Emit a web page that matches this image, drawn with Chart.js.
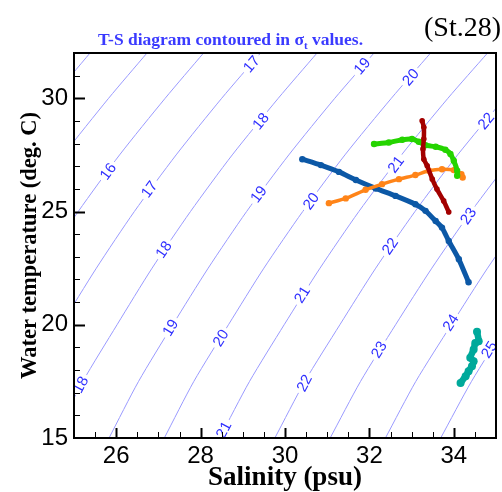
<!DOCTYPE html>
<html>
<head>
<meta charset="utf-8">
<script src="https://cdn.jsdelivr.net/npm/chart.js@4.4.0/dist/chart.umd.min.js"></script>
<style>
html,body{margin:0;padding:0;background:#fff;}
#wrap{position:relative;width:502px;height:492px;}
</style>
</head>
<body>
<div id="wrap"><canvas id="c" width="502" height="492"></canvas></div>
<script>
// ---------- axes ----------
const xRange = [25, 35];
const yRange = [15, 32];
const xTicks = [26, 28, 30, 32, 34];
const yTicks = [15, 20, 25, 30];

// ---------- sigma-t contour lines (salinity read at each temperature level) ----------
const isoTemps = [15, 17.5, 20, 22.5, 25, 27.5, 30, 32];
const iso14 = [19.28, 19.95, 20.74, 21.55, 22.44, 23.41, 24.48, 25.38];
const iso15 = [20.59, 21.27, 22.06, 22.88, 23.77, 24.75, 25.82, 26.73];
const iso16 = [21.90, 22.58, 23.38, 24.20, 25.10, 26.08, 27.16, 28.07];
const iso17 = [23.21, 23.90, 24.70, 25.53, 26.43, 27.42, 28.50, 29.42];
const iso18 = [24.52, 25.21, 26.02, 26.85, 27.76, 28.75, 29.84, 30.76];
const iso19 = [25.83, 26.53, 27.34, 28.18, 29.09, 30.09, 31.18, 32.11];
const iso20 = [27.14, 27.84, 28.66, 29.50, 30.42, 31.42, 32.52, 33.45];
const iso21 = [28.45, 29.16, 29.98, 30.83, 31.75, 32.76, 33.86, 34.80];
const iso22 = [29.76, 30.47, 31.30, 32.15, 33.08, 34.09, 35.20, 36.14];
const iso23 = [31.07, 31.79, 32.62, 33.48, 34.41, 35.43, 36.54, 37.49];
const iso24 = [32.38, 33.10, 33.94, 34.80, 35.74, 36.76, 37.88, 38.83];
const iso25 = [33.69, 34.42, 35.26, 36.13, 37.07, 38.10, 39.22, 40.18];
const iso26 = [35.00, 35.73, 36.58, 37.45, 38.40, 39.43, 40.56, 41.52];
const isoLevels = [14, 15, 16, 17, 18, 19, 20, 21, 22, 23, 24, 25, 26];
const isoSalinity = [iso14, iso15, iso16, iso17, iso18, iso19, iso20, iso21, iso22, iso23, iso24, iso25, iso26];

// ---------- contour labels ----------
const labelSigma = [17, 19, 20, 22, 16, 18, 17, 21, 19, 20, 18, 22, 23, 21, 19, 20, 23, 24, 25, 18, 22, 21];
const labelS = [29.20, 31.82, 32.97, 34.76, 25.80, 29.42, 26.78, 32.62, 29.37, 30.61, 27.12, 32.48, 34.34, 30.40, 27.28, 28.47, 32.22, 33.92, 34.83, 25.15, 30.45, 28.54];
const labelT = [31.52, 31.43, 30.94, 29.01, 26.78, 29.00, 25.99, 27.09, 25.77, 25.47, 23.33, 23.48, 24.81, 21.34, 19.88, 19.42, 18.91, 20.10, 18.91, 17.36, 17.43, 15.37];

// ---------- observed profiles (salinity, temperature) ----------
const blueS = [30.41, 30.85, 31.28, 31.68, 32.15, 32.62, 33.09, 33.33, 33.57, 33.72, 33.88, 34.12, 34.35];
const blueT = [27.31, 27.05, 26.75, 26.39, 26.02, 25.69, 25.32, 25.03, 24.58, 24.29, 23.70, 22.89, 21.88];
const orangeS = [31.04, 31.44, 31.91, 32.30, 32.70, 33.09, 33.41, 33.72, 34.00, 34.18, 34.21];
const orangeT = [25.37, 25.58, 25.96, 26.21, 26.43, 26.61, 26.80, 26.87, 26.83, 26.65, 26.50];
const greenS = [32.11, 32.46, 32.78, 33.01, 33.17, 33.33, 33.57, 33.80, 33.92, 34.00, 34.08, 34.08];
const greenT = [27.98, 28.05, 28.17, 28.20, 28.08, 27.93, 27.86, 27.73, 27.54, 27.24, 26.80, 26.58];
const redS = [33.25, 33.29, 33.29, 33.27, 33.29, 33.37, 33.49, 33.60, 33.76, 33.88];
const redT = [29.01, 28.72, 28.20, 27.76, 27.31, 27.02, 26.43, 25.99, 25.47, 24.98];
const tealS = [34.55, 34.59, 34.51, 34.47, 34.39, 34.47, 34.43, 34.35, 34.28, 34.16];
const tealT = [19.69, 19.27, 19.20, 18.91, 18.54, 18.39, 18.17, 17.95, 17.73, 17.43];

const pts = (S, T) => S.map((s, i) => ({x: s, y: T[i]}));

const datasets = [];
isoSalinity.forEach((arr, k) => {
  datasets.push({
    label: 'sigma ' + isoLevels[k],
    data: pts(arr, isoTemps),
    showLine: true, pointRadius: 0, borderColor: '#9a9aff', borderWidth: 1,
    tension: 0.25, order: 10, clip: 0
  });
});
function profile(label, S, T, color, bw, pr) {
  return {label, data: pts(S, T), showLine: true, borderColor: color, backgroundColor: color,
    borderWidth: bw, pointRadius: pr, pointBorderWidth: 0, tension: 0.2,
    borderCapStyle: 'round', borderJoinStyle: 'round', clip: 0};
}
datasets.push(Object.assign(profile('blue', blueS, blueT, '#0c58a6', 5, 3.2), {order: 5}));
datasets.push(Object.assign(profile('orange', orangeS, orangeT, '#ff8418', 3.5, 3.2), {order: 4}));
datasets.push(Object.assign(profile('green', greenS, greenT, '#25d400', 5, 3.2), {order: 3}));
datasets.push(Object.assign(profile('darkred', redS, redT, '#a30000', 4.5, 2.8), {order: 2}));
datasets.push(Object.assign(profile('teal', tealS, tealT, '#00a99b', 6.5, 4), {order: 1}));

const extras = {
  id: 'extras',
  afterDatasetDraw(chart, args) {
    if (args.index !== 0) return;
    const ctx = chart.ctx, a = chart.chartArea;
    const xs = chart.scales.x, ys = chart.scales.y;
    ctx.save();
    ctx.beginPath(); ctx.rect(a.left, a.top, a.right - a.left, a.bottom - a.top); ctx.clip();
    ctx.font = '15px "Liberation Sans", Arial, sans-serif';
    ctx.textAlign = 'center'; ctx.textBaseline = 'middle';
    labelSigma.forEach((lv, i) => {
      const arr = isoSalinity[isoLevels.indexOf(lv)];
      let j = 0;
      while (j < isoTemps.length - 2 && labelT[i] > isoTemps[j + 1]) j++;
      const x1 = xs.getPixelForValue(arr[j]), y1 = ys.getPixelForValue(isoTemps[j]);
      const x2 = xs.getPixelForValue(arr[j + 1]), y2 = ys.getPixelForValue(isoTemps[j + 1]);
      const ang = Math.atan2(y2 - y1, x2 - x1);
      const px = xs.getPixelForValue(labelS[i]), py = ys.getPixelForValue(labelT[i]);
      const txt = String(lv);
      const w = ctx.measureText(txt).width;
      ctx.save();
      ctx.translate(px, py); ctx.rotate(ang);
      ctx.fillStyle = '#fff';
      ctx.fillRect(-w / 2 - 3, -6, w + 6, 12);
      ctx.fillStyle = '#2f2fff';
      ctx.fillText(txt, 0, 1);
      ctx.restore();
    });
    ctx.restore();
  },
  afterDraw(chart) {
    const ctx = chart.ctx, a = chart.chartArea;
    const xs = chart.scales.x, ys = chart.scales.y;
    ctx.save();
    ctx.strokeStyle = '#000';
    // inward ticks
    for (let v = xRange[0] + 0.5; v < xRange[1]; v += 0.5) {
      const major = xTicks.includes(v);
      const x = Math.round(xs.getPixelForValue(v)) + 0.5;
      ctx.lineWidth = major ? 2 : 1;
      ctx.beginPath(); ctx.moveTo(x, a.bottom); ctx.lineTo(x, a.bottom - (major ? 10 : 6)); ctx.stroke();
    }
    for (let v = yRange[0] + 1; v < yRange[1]; v += 1) {
      const major = yTicks.includes(v);
      const y = Math.round(ys.getPixelForValue(v)) + 0.5;
      ctx.lineWidth = major ? 2 : 1;
      ctx.beginPath(); ctx.moveTo(a.left, y); ctx.lineTo(a.left + (major ? 11 : 6), y); ctx.stroke();
    }
    // frame
    ctx.lineWidth = 2;
    ctx.strokeRect(a.left, a.top, a.right - a.left, a.bottom - a.top);
    // title
    ctx.fillStyle = '#3a3aff';
    ctx.textBaseline = 'alphabetic'; ctx.textAlign = 'left';
    const f1 = 'bold 17.5px "Liberation Serif", "Times New Roman", serif';
    ctx.font = f1;
    let x = 98; const yb = 45;
    const p1 = 'T-S diagram contoured in ';
    ctx.fillText(p1, x, yb); x += ctx.measureText(p1).width;
    ctx.fillText('σ', x, yb); x += ctx.measureText('σ').width;
    ctx.font = 'bold 11px "Liberation Serif", "Times New Roman", serif';
    ctx.fillText('t', x, yb + 4); x += ctx.measureText('t').width;
    ctx.font = f1;
    ctx.fillText(' values.', x, yb);
    // station tag
    ctx.fillStyle = '#000';
    ctx.font = '28px "Liberation Serif", "Times New Roman", serif';
    ctx.textAlign = 'right';
    ctx.fillText('(St.28)', 501, 36);
    ctx.restore();
  }
};

new Chart(document.getElementById('c'), {
  type: 'scatter',
  data: {datasets},
  options: {
    responsive: false, animation: false,
    layout: {padding: {top: 53, right: 6, left: 0, bottom: 0}},
    plugins: {legend: {display: false}, tooltip: {enabled: false}, title: {display: false}},
    scales: {
      x: {
        type: 'linear', min: xRange[0], max: xRange[1],
        afterBuildTicks: s => { s.ticks = xTicks.map(v => ({value: v})); },
        afterFit: s => { s.height = 54; },
        grid: {display: false, drawTicks: false},
        border: {display: false},
        ticks: {color: '#000', padding: 4, font: {family: '"Liberation Sans", Arial, sans-serif', size: 24}},
        title: {display: true, text: 'Salinity (psu)', color: '#000', padding: {top: 0, bottom: -2},
          font: {family: '"Liberation Serif", "Times New Roman", serif', size: 27, weight: 'bold'}}
      },
      y: {
        type: 'linear', min: yRange[0], max: yRange[1],
        afterBuildTicks: s => { s.ticks = yTicks.map(v => ({value: v})); },
        afterFit: s => { s.width = 74; },
        grid: {display: false, drawTicks: false},
        border: {display: false},
        ticks: {color: '#000', padding: 6, font: {family: '"Liberation Sans", Arial, sans-serif', size: 24}},
        title: {display: true, text: 'Water temperature (deg. C)', color: '#000', padding: {top: 17, bottom: 0},
          font: {family: '"Liberation Serif", "Times New Roman", serif', size: 22.5, weight: 'bold'}}
      }
    }
  },
  plugins: [extras]
});
</script>
</body>
</html>
